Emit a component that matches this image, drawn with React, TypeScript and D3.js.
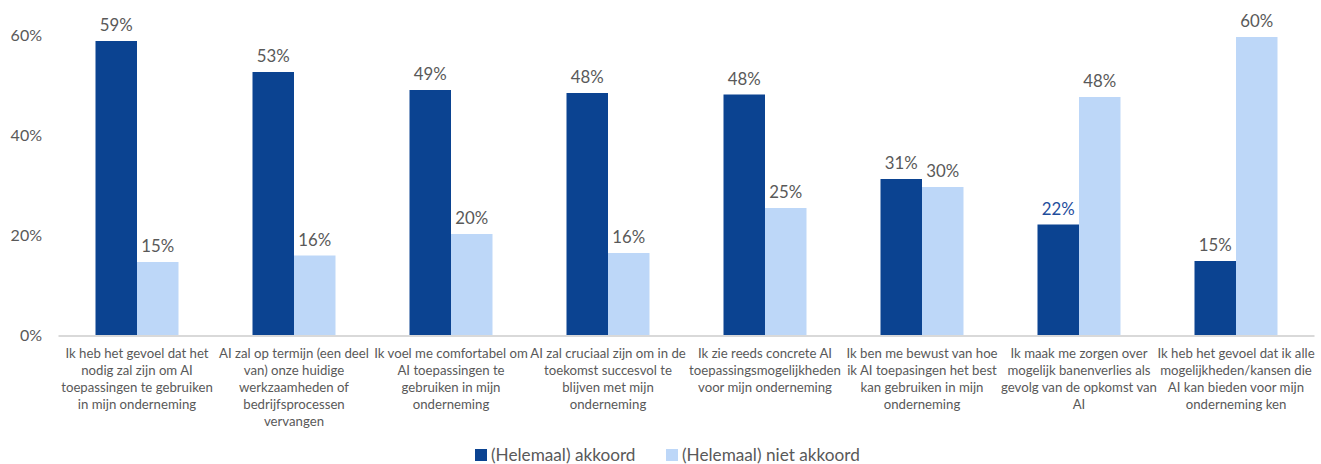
import React from "react";
import * as d3 from "d3";

const categories: string[] = [
  "Ik heb het gevoel dat het\nnodig zal zijn om AI\ntoepassingen te gebruiken\nin mijn onderneming",
  "AI zal op termijn (een deel\nvan) onze huidige\nwerkzaamheden of\nbedrijfsprocessen\nvervangen",
  "Ik voel me comfortabel om\nAI toepassingen te\ngebruiken in mijn\nonderneming",
  "AI zal cruciaal zijn om in de\ntoekomst succesvol te\nblijven met mijn\nonderneming",
  "Ik zie reeds concrete AI\ntoepassingsmogelijkheden\nvoor mijn onderneming",
  "Ik ben me bewust van hoe\nik AI toepasingen het best\nkan gebruiken in mijn\nonderneming",
  "Ik maak me zorgen over\nmogelijk banenverlies als\ngevolg van de opkomst van\nAI",
  "Ik heb het gevoel dat ik alle\nmogelijkheden/kansen die\nAI kan bieden voor mijn\nonderneming ken",
];
const akkoord: number[] = [58.8, 52.6, 49.0, 48.4, 48.1, 31.2, 22.1, 14.8];
const nietAkkoord: number[] = [14.6, 15.9, 20.2, 16.4, 25.4, 29.6, 47.6, 59.6];
const seriesNames: string[] = ["(Helemaal) akkoord", "(Helemaal) niet akkoord"];
const yTicks: number[] = [0, 20, 40, 60];

const COLORS = ["#0b4391", "#bdd7f8"];
const FONT = "Lato, 'Open Sans', sans-serif";

export default function App() {
  const W = 1321, H = 464;
  const left = 58.5, right = 1314.5, top = 35, bottom = 335;
  const x = d3.scaleBand<number>().domain(d3.range(categories.length)).range([left, right]).paddingInner(0).paddingOuter(0);
  const y = d3.scaleLinear().domain([0, 60]).range([bottom, top]);
  const barW = 41.5;
  const series = [akkoord, nietAkkoord];

  return (
    <svg width={W} height={H} style={{ position: "absolute", left: 0, top: 0, fontFamily: FONT }}>
      <rect width={W} height={H} fill="#fff" />
      {yTicks.map((t) => (
        <text key={t} x={42} y={y(t)} dy="0.35em" textAnchor="end" fontSize={16} fill="#595959">
          {t}%
        </text>
      ))}
      {categories.map((c, i) => {
        const cx = (x(i) as number) + x.bandwidth() / 2;
        return (
          <g key={i}>
            {series.map((s, si) => {
              const bx = si === 0 ? cx - barW : cx;
              const v = s[i];
              return (
                <g key={si}>
                  <rect x={bx} y={y(v)} width={barW} height={bottom - y(v)} fill={COLORS[si]} />
                  <text
                    x={bx + barW / 2}
                    y={y(v) - 10}
                    textAnchor="middle"
                    fontSize={16.8}
                    fill={si === 0 && i === 6 ? "#1f4e9c" : "#595959"}
                  >
                    {Math.round(v)}%
                  </text>
                </g>
              );
            })}
            <text textAnchor="middle" fontSize={13.2} fill="#595959">
              {c.split("\n").map((line, li) => (
                <tspan key={li} x={cx} y={358 + li * 17}>
                  {line}
                </tspan>
              ))}
            </text>
          </g>
        );
      })}
      <line x1={left} x2={right} y1={bottom + 1} y2={bottom + 1} stroke="#d9d9d9" strokeWidth={2} />
      {seriesNames.map((n, i) => {
        const lx = i === 0 ? 475 : 666;
        return (
          <g key={n}>
            <rect x={lx} y={449} width={12} height={12} fill={COLORS[i]} />
            <text x={lx + 16} y={455} dy="0.35em" fontSize={17.2} fill="#595959">
              {n}
            </text>
          </g>
        );
      })}
    </svg>
  );
}
